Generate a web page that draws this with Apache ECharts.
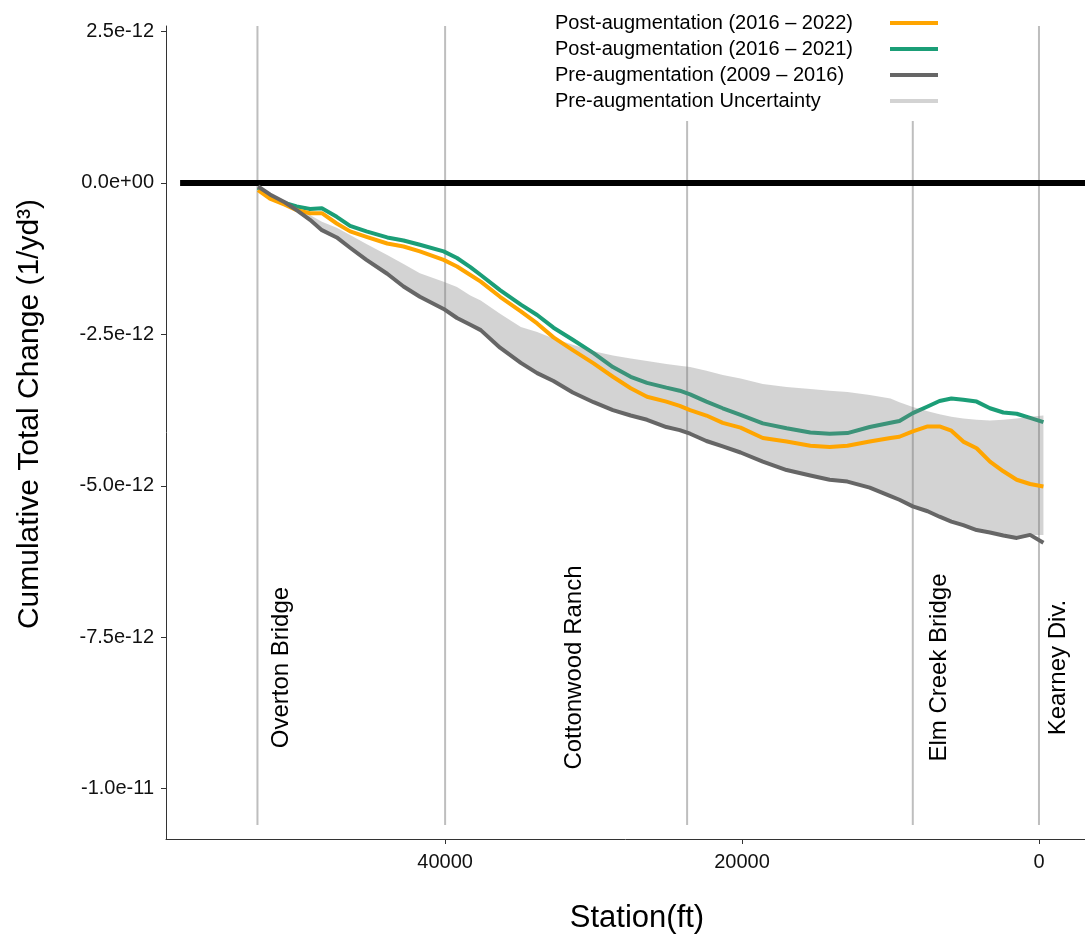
<!DOCTYPE html>
<html><head><meta charset="utf-8">
<script src="https://cdn.jsdelivr.net/npm/echarts@6/dist/echarts.min.js"></script>
<style>html,body{margin:0;padding:0;background:#fff}#c{width:1085px;height:935px}</style>
</head><body><div id="c"></div>
<script>
// ---- data (values in units of 1e-12 1/yd^3) ----
const UNIT = 1e-12;
const stations = [52600, 51800, 50800, 50000, 49100, 48300, 47300, 46400, 45300, 43900,
  42800, 41700, 40100, 39200, 38300, 37600, 36300, 34900, 33800, 32700,
  31400, 30000, 28700, 27500, 26400, 25100, 24200, 23500, 22400, 21300,
  20100, 18600, 17000, 15400, 14100, 12900, 11400, 10000, 9400, 8500,
  7500, 6700, 5900, 5100, 4200, 3300, 2400, 1500, 600, -300];
const post2022 = [-0.12,-0.26,-0.36,-0.45,-0.50, -0.50,-0.67,-0.80,-0.89,-1.00,
  -1.05,-1.13,-1.27,-1.38,-1.52, -1.63,-1.88,-2.12,-2.32,-2.55,
  -2.76,-2.98,-3.20,-3.39,-3.53, -3.61,-3.68,-3.75,-3.84,-3.96,
  -4.04,-4.21,-4.27,-4.34,-4.36, -4.34,-4.27,-4.21,-4.19,-4.10,
  -4.02,-4.02,-4.09,-4.27,-4.38, -4.60,-4.76,-4.90,-4.97,-5.01];
const post2021 = [-0.08,-0.23,-0.33,-0.39,-0.43, -0.42,-0.56,-0.71,-0.80,-0.90,
  -0.95,-1.02,-1.13,-1.24,-1.39, -1.52,-1.77,-2.01,-2.18,-2.39,
  -2.59,-2.81,-3.04,-3.20,-3.30, -3.38,-3.43,-3.49,-3.61,-3.72,
  -3.83,-3.97,-4.05,-4.12,-4.14, -4.13,-4.03,-3.96,-3.93,-3.80,
  -3.69,-3.60,-3.56,-3.58,-3.61, -3.72,-3.79,-3.81,-3.88,-3.95];
const pre2016 = [-0.06,-0.19,-0.32,-0.45,-0.61, -0.78,-0.90,-1.07,-1.27,-1.50,
  -1.71,-1.88,-2.08,-2.23,-2.34, -2.43,-2.72,-2.97,-3.14,-3.27,
  -3.46,-3.62,-3.75,-3.84,-3.91, -4.03,-4.08,-4.14,-4.26,-4.35,
  -4.45,-4.60,-4.74,-4.83,-4.90, -4.93,-5.03,-5.17,-5.23,-5.34,
  -5.42,-5.51,-5.59,-5.65,-5.73, -5.77,-5.82,-5.86,-5.81,-5.94];
const uncertaintyUpper = [-0.06,-0.19,-0.30,-0.41,-0.53, -0.64,-0.74,-0.86,-1.01,-1.19,
  -1.34,-1.49,-1.63,-1.72,-1.86, -1.94,-2.16,-2.38,-2.46,-2.57,
  -2.67,-2.78,-2.85,-2.90,-2.94, -2.99,-3.02,-3.04,-3.10,-3.17,
  -3.23,-3.32,-3.37,-3.40,-3.43, -3.45,-3.50,-3.56,-3.62,-3.70,
  -3.77,-3.82,-3.86,-3.89,-3.91, -3.92,-3.91,-3.89,-3.86,-3.84];
const uncertaintyLower = [-0.06,-0.19,-0.32,-0.45,-0.61, -0.78,-0.90,-1.07,-1.27,-1.50,
  -1.71,-1.88,-2.08,-2.23,-2.34, -2.43,-2.72,-2.97,-3.14,-3.27,
  -3.46,-3.62,-3.75,-3.84,-3.91, -4.03,-4.08,-4.14,-4.26,-4.35,
  -4.45,-4.60,-4.74,-4.83,-4.90, -4.93,-5.03,-5.17,-5.23,-5.34,
  -5.42,-5.51,-5.59,-5.65,-5.73, -5.77,-5.82,-5.86,-5.81,-5.81];
const landmarkLineStations = [52640, 40000, 23700, 8500, 0];
const landmarkLineTop = 2.59;
const landmarkLineBottom = -10.6;
const landmarkNames = ['Overton Bridge', 'Cottonwood Ranch', 'Elm Creek Bridge', 'Kearney Div.'];
const landmarkLabelStations = [51000, 31300, 6700, -1300];
const landmarkLabelValue = -8.0;
const zeroLineStations = [57850, -3100];
const xTicks = [40000, 20000, 0];
const yTicks = [2.5e-12, 0, -2.5e-12, -5e-12, -7.5e-12, -1e-11];
const seriesNames = ['Post-augmentation (2016 \u2013 2022)', 'Post-augmentation (2016 \u2013 2021)',
  'Pre-augmentation (2009 \u2013 2016)', 'Pre-augmentation Uncertainty'];
const colors = ['#FFA500', '#1B9E77', '#666666', '#D3D3D3'];

// ---- chart ----
const FONT = '"Liberation Sans", Arial, Helvetica, sans-serif';
const pairs = arr => stations.map((s, i) => [s, arr[i] * UNIT]);
const fmtY = v => {
  let s = Number(v).toExponential(1);
  return s.replace(/e([+-])(\d)$/, 'e$10$2');
};
const chart = echarts.init(document.getElementById('c'), null, {renderer: 'canvas'});
const lineSeries = (name, arr, color, z) => ({
  name, type: 'line', data: pairs(arr), showSymbol: false, symbol: 'none', z,
  color, lineStyle: {color, width: 4, join: 'round'}, emphasis: {disabled: true}, silent: true
});
chart.setOption({
  animation: false,
  backgroundColor: '#fff',
  grid: {left: 166, right: 0, top: 26, bottom: 96, containLabel: false},
  xAxis: {
    type: 'value', inverse: true, min: -3100, max: 58800,
    splitLine: {show: false},
    axisLine: {show: true, onZero: false, lineStyle: {color: '#333', width: 1}},
    axisTick: {show: true, length: 5, customValues: xTicks, lineStyle: {color: '#333'}},
    axisLabel: {customValues: xTicks, margin: 13, color: '#111', fontSize: 20, fontFamily: FONT,
      formatter: v => String(v)}
  },
  yAxis: {
    type: 'value', min: -10.83e-12, max: 2.59e-12,
    splitLine: {show: false},
    axisLine: {show: true, onZero: false, lineStyle: {color: '#333', width: 1}},
    axisTick: {show: true, length: 5, customValues: yTicks, lineStyle: {color: '#333'}},
    axisLabel: {customValues: yTicks, margin: 12, color: '#111', fontSize: 20, fontFamily: FONT,
      formatter: fmtY}
  },
  legend: {
    orient: 'vertical', left: 545, top: 3, padding: [10, 10, 10, 10],
    backgroundColor: '#fff', align: 'right', icon: 'rect',
    itemWidth: 48, itemHeight: 4, itemGap: 6, selectedMode: false,
    formatter: n => '{t|' + n + '}',
    textStyle: {fontFamily: FONT, fontSize: 20, color: '#000',
      rich: {t: {width: 330, align: 'left', fontFamily: FONT, fontSize: 20, color: '#000'}}},
    data: seriesNames.map((n, i) => ({name: n, itemStyle: {color: colors[i]}}))
  },
  graphic: [
    {type: 'text', x: 30, y: 414, rotation: Math.PI / 2,
      style: {text: 'Cumulative Total Change (1/yd\u00B3)', font: '30px ' + FONT, fill: '#000',
        align: 'center', verticalAlign: 'middle', textAlign: 'center', textVerticalAlign: 'middle'}},
    {type: 'text', x: 637, y: 918,
      style: {text: 'Station(ft)', font: '31px ' + FONT, fill: '#000',
        align: 'center', verticalAlign: 'middle', textAlign: 'center', textVerticalAlign: 'middle'}}
  ],
  series: [
    {
      type: 'custom', name: 'landmarks', z: 1, silent: true,
      data: landmarkLineStations.map(s => [s, landmarkLineTop * UNIT, landmarkLineBottom * UNIT]),
      encode: {x: 0, y: [1, 2]},
      renderItem: (params, api) => {
        const a = api.coord([api.value(0), api.value(1)]);
        const b = api.coord([api.value(0), api.value(2)]);
        return {type: 'line', shape: {x1: a[0], y1: a[1], x2: b[0], y2: b[1]},
          style: {stroke: '#BEBEBE', lineWidth: 2}};
      }
    },
    {
      type: 'line', name: 'zero', z: 2, silent: true, showSymbol: false, symbol: 'none',
      data: zeroLineStations.map(s => [s, 0]),
      lineStyle: {color: '#000', width: 6}, color: '#000'
    },
    lineSeries(seriesNames[1], post2021, colors[1], 3),
    {
      type: 'custom', name: seriesNames[3], z: 4, silent: true,
      itemStyle: {color: colors[3]}, color: colors[3],
      data: stations.map((s, i) => [s, uncertaintyLower[i] * UNIT, uncertaintyUpper[i] * UNIT]),
      encode: {x: 0, y: [1, 2]},
      renderItem: (params, api) => {
        if (params.dataIndex !== 0) return null;
        const pts = [];
        for (let i = 0; i < stations.length; i++) pts.push(api.coord([stations[i], uncertaintyUpper[i] * UNIT]));
        for (let i = stations.length - 1; i >= 0; i--) pts.push(api.coord([stations[i], uncertaintyLower[i] * UNIT]));
        return {type: 'polygon', shape: {points: pts}, style: {fill: 'rgba(125,125,125,0.34)'}};
      }
    },
    lineSeries(seriesNames[0], post2022, colors[0], 5),
    lineSeries(seriesNames[2], pre2016, colors[2], 6),
    {
      type: 'custom', name: 'landmarkLabels', z: 7, silent: true,
      data: landmarkLabelStations.map((s, i) => [s, landmarkLabelValue * UNIT, i]),
      encode: {x: 0, y: 1},
      renderItem: (params, api) => {
        const p = api.coord([api.value(0), api.value(1)]);
        return {type: 'text', x: p[0], y: p[1], rotation: Math.PI / 2,
          style: {text: landmarkNames[api.value(2)], font: '24px ' + FONT, fill: '#000',
            align: 'center', verticalAlign: 'middle'}};
      }
    }
  ]
});
</script>
</body></html>
